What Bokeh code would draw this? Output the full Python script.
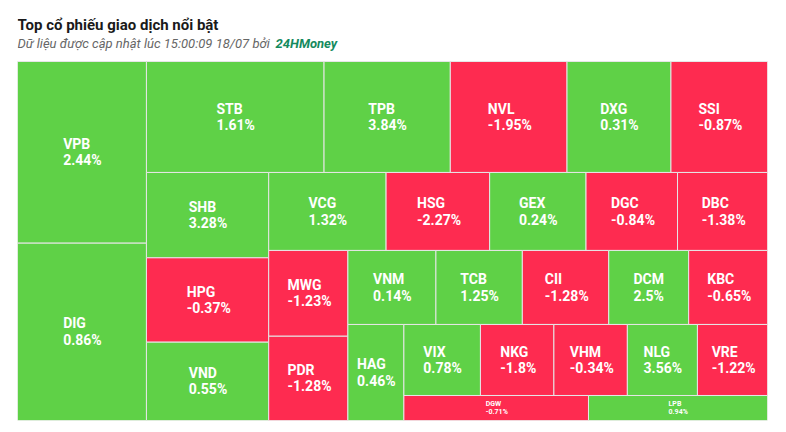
import math
from bokeh.plotting import figure
from bokeh.models import ColumnDataSource, Range1d
from bokeh.core.properties import value
from bokeh.embed import file_html
from bokeh.resources import INLINE

# ---- data ----
tickers = ["VPB", "DIG", "STB", "TPB", "NVL", "DXG", "SSI", "SHB", "HPG", "VND",
           "VCG", "HSG", "GEX", "DGC", "DBC", "MWG", "PDR", "VNM", "TCB", "CII",
           "DCM", "KBC", "HAG", "VIX", "NKG", "VHM", "NLG", "VRE", "DGW", "LPB"]
trade_values = [1172, 1144, 986, 701, 648, 577, 536, 522, 516, 479,
                458, 404, 376, 357, 351, 340, 334, 326, 320, 320,
                296, 292, 269, 272, 261, 261, 249, 249, 231, 224]
changes = [2.44, 0.86, 1.61, 3.84, -1.95, 0.31, -0.87, 3.28, -0.37, 0.55,
           1.32, -2.27, 0.24, -0.84, -1.38, -1.23, -1.28, 0.14, 1.25, -1.28,
           2.5, -0.65, 0.46, 0.78, -1.8, -0.34, 3.56, -1.22, -0.71, 0.94]

title_text = "Top cổ phiếu giao dịch nổi bật"
subtitle_text = "Dữ liệu được cập nhật lúc 15:00:09 18/07 bởi"
brand_text = "24HMoney"

GREEN = "#5fd147"
RED = "#fe2b50"

# tree-area size (layout space = screen pixels of the tree area)
W, H = 750.0, 359.0
HEAD = 61.0  # header band above the tree, inside the frame


def sdiv(a, b):
    if a is None or b is None or (isinstance(a, float) and math.isnan(a)) or (isinstance(b, float) and math.isnan(b)):
        return float("nan")
    if b == 0:
        return float("inf") if a != 0 else float("nan")
    return a / b


def ratio(w, h):
    a, b = sdiv(w, h), sdiv(h, w)
    if math.isnan(a) or math.isnan(b):
        return float("nan")
    return max(a, b)


class Group:
    def __init__(self, h, w, d):
        self.height, self.width, self.direction = h, w, d
        self.total = 0.0
        self.nW = self.lW = self.nH = self.lH = 0.0
        self.el = []
        self.nR = self.lR = float("nan")

    def add(self, e):
        last = self.el[-1] if self.el else float("nan")
        self.total += e
        if self.direction == 0:
            self.lW = self.nW
            lH = sdiv(last, self.lW)
            self.lR = ratio(self.lW, lH)
            self.nW = self.total / self.height
            nH = sdiv(last, self.nW)
            self.nR = ratio(self.nW, nH)
        else:
            self.lH = self.nH
            lW = sdiv(last, self.lH)
            self.lR = ratio(lW, self.lH)
            self.nH = self.total / self.width
            nW = sdiv(last, self.nH)
            self.nR = ratio(nW, self.nH)
        self.el.append(e)

    def reset(self):
        self.nW = self.lW = 0.0
        self.el = []
        self.total = 0.0


def squarified(vals, Wd, Ht):
    tot = float(sum(vals))
    out = []
    g = Group(Ht, Wd, 0)
    pos = {"x": 0.0, "y": 0.0}

    def calc(last):
        end = len(g.el) - 1
        gW, gH = g.lW, g.lH
        keep = None
        if last:
            gW, gH = g.nW, g.nH
        else:
            keep = g.el[end]
        for i, p in enumerate(g.el):
            if last or i < end:
                if g.direction == 0:
                    pW = gW
                    pH = p / pW
                else:
                    pH = gH
                    pW = p / pH
                out.append((pos["x"], pos["y"], pW, pH))
                if g.direction == 0:
                    pos["y"] += pH
                else:
                    pos["x"] += pW
        g.reset()
        if g.direction == 0:
            g.width -= gW
        else:
            g.height -= gH
        pos["y"] = Ht - g.height
        pos["x"] = Wd - g.width
        g.direction = 1 - g.direction
        if not last:
            g.add(keep)

    n = len(vals)
    for i, v in enumerate(vals):
        g.add(Wd * Ht * v / tot)
        if g.nR > g.lR:
            calc(False)
        if i == n - 1:
            calc(True)
    return out


rects = squarified(trade_values, W, H)

# approximate Roboto Bold advance widths (em)
CW = {"A": .656, "B": .637, "C": .652, "D": .647, "E": .560, "G": .680, "H": .712,
      "I": .285, "K": .638, "L": .542, "M": .874, "N": .712, "P": .642, "R": .627,
      "S": .615, "T": .616, "V": .654, "W": .873, "X": .637, ".": .273, "%": .732,
      "-": .281}


def tw(s, fs):
    return sum(CW.get(c, .562) for c in s) * fs


left, right, top, bottom, colors = [], [], [], [], []
cx, cy, names, pcts, fsz, xoff, yoff1, yoff2 = [], [], [], [], [], [], [], []
for (x, y, w, h), t, c in zip(rects, tickers, changes):
    left.append(x); right.append(x + w); top.append(y); bottom.append(y + h)
    colors.append(GREEN if c >= 0 else RED)
    pct = f"{c:g}%"
    fs = 14 if h >= 40 else 7
    bw = max(tw(t, fs), tw(pct, fs))
    cx.append(x + w / 2); cy.append(y + h / 2)
    names.append(t); pcts.append(pct)
    fsz.append(f"{fs}px")
    xoff.append(-bw / 2)
    yoff1.append(-0.6 * fs); yoff2.append(0.58 * fs)

src = ColumnDataSource(dict(left=left, right=right, top=top, bottom=bottom, color=colors,
                            cx=cx, cy=cy, name=names, pct=pcts, fs=fsz, xoff=xoff,
                            y1=yoff1, y2=yoff2))

p = figure(width=785, height=424, output_backend="svg", toolbar_location=None,
           x_range=Range1d(0, W), y_range=Range1d(H, -HEAD),
           min_border_left=17, min_border_right=18, min_border_top=0, min_border_bottom=4)
p.axis.visible = False
p.grid.visible = False
p.outline_line_color = None
p.background_fill_color = "white"
p.border_fill_color = "white"

p.quad(left="left", right="right", top="top", bottom="bottom", source=src,
       fill_color="color", line_color="#e6e6e6", line_width=1)

p.text(x="cx", y="cy", text="name", source=src, x_offset="xoff", y_offset="y1",
       text_align="left", text_baseline="middle", text_color="white",
       text_font=value("Roboto"), text_font_style="bold", text_font_size="fs")
p.text(x="cx", y="cy", text="pct", source=src, x_offset="xoff", y_offset="y2",
       text_align="left", text_baseline="middle", text_color="white",
       text_font=value("Roboto"), text_font_style="bold", text_font_size="fs")

p.text(x=[0], y=[-36.5], text=[title_text], text_font=value("Roboto"),
       text_font_style="bold", text_font_size="15px", text_color="#1a1a1a",
       text_baseline="middle", text_align="left")
p.text(x=[0], y=[-18.5], text=[subtitle_text], text_font=value("Roboto"),
       text_font_style="italic", text_font_size="13px", text_color="#666666",
       text_baseline="middle", text_align="left")
p.text(x=[258], y=[-18.5], text=[brand_text], text_font=value("Roboto"),
       text_font_style="bold italic", text_font_size="13px", text_color="#148a5e",
       text_baseline="middle", text_align="left")

open("out.html", "w").write(file_html(p, INLINE))
